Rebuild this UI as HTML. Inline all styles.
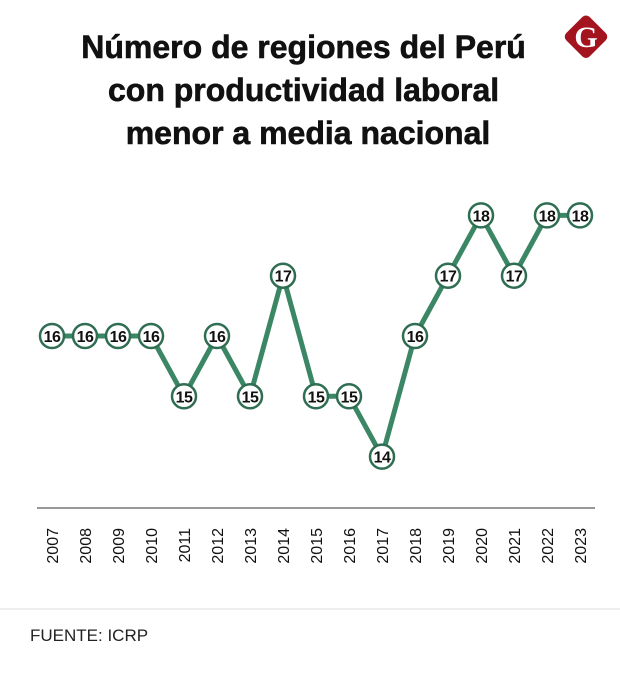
<!DOCTYPE html>
<html><head><meta charset="utf-8"><style>
body{margin:0;background:#fff;width:620px;height:670px;overflow:hidden;font-family:"Liberation Sans",sans-serif}
</style></head><body>
<svg width="620" height="670">
<text x="308" font-size="32" font-weight="bold" text-anchor="middle" fill="#111" stroke="#111" stroke-width="0.6">
<tspan x="308" y="58">Número de regiones del Perú</tspan>
<tspan x="308" y="101">con productividad laboral</tspan>
<tspan x="308" y="144">menor a media nacional</tspan>
</text>
<g>
<rect x="570" y="20" width="33" height="33" rx="5" fill="#a3141e" transform="rotate(45 586 36)"/>
<text x="586" y="47" font-size="30" font-weight="bold" fill="#fff" text-anchor="middle" font-family="Liberation Serif,serif">G</text>
</g>
<line x1="37" y1="508" x2="595" y2="508" stroke="#777" stroke-width="1.5"/>
<g id="ticks"></g>
<polyline id="line" fill="none" stroke="#3b8765" stroke-width="5"/>
<g id="marks"></g>
<line x1="0" y1="609" x2="620" y2="609" stroke="#ddd" stroke-width="1"/>
<text x="30" y="641" font-size="17" fill="#222">FUENTE: ICRP</text>
</svg>
<script>
const years=["2007","2008","2009","2010","2011","2012","2013","2014","2015","2016","2017","2018","2019","2020","2021","2022","2023"];
const values=[16,16,16,16,15,16,15,17,15,15,14,16,17,18,17,18,18];
const NS="http://www.w3.org/2000/svg";
function xs(i){return 52+i*33;}
function ys(v){return 336-(v-16)*60.3;}
const line=document.getElementById('line');
line.setAttribute('points',values.map((v,i)=>xs(i)+','+ys(v)).join(' '));
const ticks=document.getElementById('ticks'),marks=document.getElementById('marks');
years.forEach((y,i)=>{
 const t=document.createElementNS(NS,'text');
 
 
 t.setAttribute('transform','translate('+(xs(i)+6)+',528) rotate(-90)');
 t.setAttribute('text-anchor','end');t.setAttribute('font-size','16');t.setAttribute('fill','#111');
 t.textContent=y;ticks.appendChild(t);
});
values.forEach((v,i)=>{
 const g=document.createElementNS(NS,'g');
 
 
 const c=document.createElementNS(NS,'circle');
 c.setAttribute('cx',xs(i));c.setAttribute('cy',ys(v));c.setAttribute('r','12');
 c.setAttribute('fill','#fff');c.setAttribute('stroke','#2f6e52');c.setAttribute('stroke-width','2.5');
 const t=document.createElementNS(NS,'text');
 t.setAttribute('x',xs(i));t.setAttribute('y',ys(v)+6);t.setAttribute('text-anchor','middle');
 t.setAttribute('font-size','16');t.setAttribute('font-weight','bold');t.setAttribute('fill','#111');
 t.setAttribute('letter-spacing','-0.5');
 t.textContent=v;g.appendChild(c);g.appendChild(t);marks.appendChild(g);
});
</script>
</body></html>
